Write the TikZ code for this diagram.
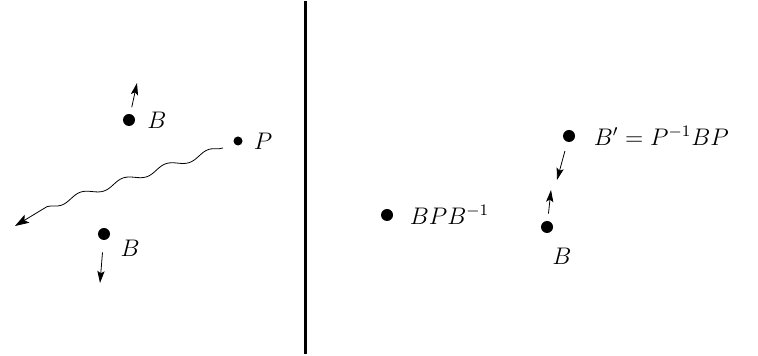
\documentclass[tikz,border=0pt]{standalone}
\usepackage{amsmath}
\usepackage{amssymb}
\usepackage{tikz}
\usetikzlibrary{arrows.meta,calc,positioning,decorations.pathmorphing}
\tikzstyle{bigdot}=[circle, fill, inner sep=0pt, minimum size=6pt]
\tikzstyle{smalldot}=[circle, fill, inner sep=0pt, minimum size=4.5pt]
\tikzstyle{lbl}=[font=\large]
\tikzstyle{move}=[-{Stealth[length=6pt,width=3.6pt,inset=1.2pt]}, thin]
\tikzstyle{wave}=[-{Stealth[length=7pt,width=4.6pt,inset=1.5pt]}, thin, decorate, decoration={snake, segment length=22.5pt, amplitude=-1.6pt, post length=15.1pt}]

\begin{document}
\begin{tikzpicture}[x=0.5pt,y=-0.5pt,node distance=0.2cm and 0.5cm]
			\useasboundingbox (0,0) rectangle (758,356);

			% left half: B moves away, P passes
			\node[bigdot] (bup) at (129,120) {};
			\node[lbl,right=2.5pt of bup] (lblbup) {$B$};
			\node[smalldot] (p) at (238,141) {};
			\node[lbl,right=2pt of p] (lblp) {$P$};
			\node[bigdot] (blow) at (104,234) {};
			\node[lbl,below right=-2.5pt and 2.5pt of blow] (lblblow) {$B$};

			\coordinate (bupto) at (137,83);
			\coordinate (blowto) at (100,283);
			\coordinate (wavefrom) at (223,148);
			\coordinate (wavebend) at (40,209);
			\coordinate (waveto) at (15,226);

			\draw[move,shorten <=3.3pt] (bup) -- (bupto);
			\draw[move,shorten <=6pt] (blow) -- (blowto);
			\draw[wave] (wavefrom) -- (wavebend) -- (waveto);

			% divider
			\draw[line width=1.5pt] (305.5,1) -- (305.5,354);

			% right half
			\node[bigdot] (bpb) at (387,215) {};
			\node[lbl,right=4.7pt of bpb] (lblbpb) {$BPB^{-1}$};
			\node[bigdot] (bprime) at (569,136) {};
			\node[lbl,right=5.7pt of bprime] (lblbprime) {$B' = P^{-1}BP$};
			\node[bigdot] (bright) at (547,227) {};
			\node[lbl,below=3.6pt of bright,xshift=7.5pt] (lblbright) {$B$};

			\coordinate (bprimeto) at (557,180);
			\coordinate (brightto) at (551,190);

			\draw[move,shorten <=4.6pt] (bprime) -- (bprimeto);
			\draw[move,shorten <=3.5pt] (bright) -- (brightto);
		\end{tikzpicture}
\end{document}
